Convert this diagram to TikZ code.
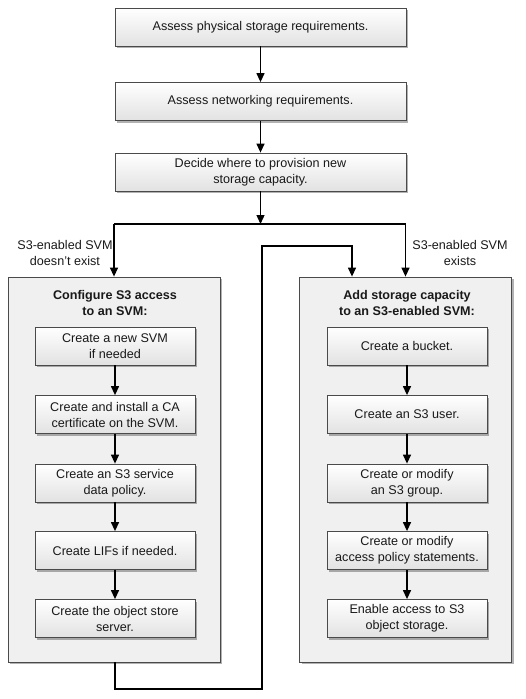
\documentclass[tikz,border=0pt]{standalone}
\usepackage{fontspec}
\setmainfont{Liberation Sans}
\usepackage{tikz}
\usetikzlibrary{arrows.meta}
\usetikzlibrary{shadows}

\definecolor{boxline}{HTML}{4A4A4A}
\definecolor{panelfill}{HTML}{F0F0F0}
\definecolor{stepfill}{HTML}{E2E2E2}

\tikzset{
  stepbox/.style={draw=boxline, line width=0.8pt, top color=white, bottom color=stepfill,
    drop shadow={shadow xshift=2pt, shadow yshift=-2pt, fill=black, opacity=0.3},
    minimum height=38pt, align=center, inner sep=2pt, text=black!90,
    font=\fontsize{12.6}{16}\selectfont},
  panel/.style={draw=boxline, line width=0.8pt, fill=panelfill,
    drop shadow={shadow xshift=2pt, shadow yshift=-2pt, fill=black, opacity=0.3},
    minimum width=212pt, minimum height=385pt},
  note/.style={align=center, text=black!90, font=\fontsize{12.6}{16}\selectfont},
  link/.style={line width=1.3pt, -{Triangle[length=9pt,width=8pt]}},
}

\begin{document}
\begin{tikzpicture}[x=1pt, y=-1pt]
\useasboundingbox (0,0) rectangle (525,699);

% First, the three steps on top
\node[stepbox, minimum width=291pt] (phys) at (260.5,27) {Assess physical storage requirements.};
\node[stepbox, minimum width=291pt] (net) at (260.5,101.5) {Assess networking requirements.};
\node[stepbox, minimum width=291pt] (decide) at (260.5,172) {Decide where to provision new\\storage capacity.};

% The two panels
\node[panel] (cfg) at (114,469.5) {};
\node[panel] (add) at (405.5,469.5) {};
\node[note, font=\fontsize{12.6}{16}\selectfont\bfseries] (cfgtitle) at (115,303) {Configure S3 access\\to an SVM:};
\node[note, font=\fontsize{12.6}{16}\selectfont\bfseries] (addtitle) at (407,303) {Add storage capacity\\to an S3-enabled SVM:};

% Steps inside the left panel
\node[stepbox, minimum width=160pt] (svm) at (115,346) {Create a new SVM\\if needed};
\node[stepbox, minimum width=160pt] (cert) at (115,414.5) {Create and install a CA\\certificate on the SVM.};
\node[stepbox, minimum width=160pt] (policy) at (115,483) {Create an S3 service\\data policy.};
\node[stepbox, minimum width=160pt] (lifs) at (115,550.5) {Create LIFs if needed.};
\node[stepbox, minimum width=160pt] (server) at (115,618.5) {Create the object store\\server.};

% Steps inside the right panel
\node[stepbox, minimum width=160pt] (bucket) at (407,346) {Create a bucket.};
\node[stepbox, minimum width=160pt] (user) at (407,414.5) {Create an S3 user.};
\node[stepbox, minimum width=160pt] (group) at (407,483) {Create or modify\\an S3 group.};
\node[stepbox, minimum width=160pt] (stmt) at (407,550.5) {Create or modify\\access policy statements.};
\node[stepbox, minimum width=160pt] (enable) at (407,618.5) {Enable access to S3\\object storage.};

% Branch labels
\node[note] (nolabel) at (65,253) {S3-enabled SVM\\doesn't exist};
\node[note] (yeslabel) at (460,253) {S3-enabled SVM\\exists};

% Now, the connectors
\coordinate (split) at (260.5,224);
\coordinate (splitl) at (114,224);
\coordinate (splitr) at (405.5,224);
\draw[link] (phys) -- (net);
\draw[link] (net) -- (decide);
\draw[link] (decide) -- (split);
\draw[line width=1.3pt] (splitl) -- (splitr);
\draw[link] (splitl) -- (splitl |- cfg.north);
\draw[link] (splitr) -- (splitr |- add.north);

\draw[link] (svm) -- (cert);
\draw[link] (cert) -- (policy);
\draw[link] (policy) -- (lifs);
\draw[link] (lifs) -- (server);

\draw[link] (bucket) -- (user);
\draw[link] (user) -- (group);
\draw[link] (group) -- (stmt);
\draw[link] (stmt) -- (enable);

% Finally the loop from the left panel to the right one
\coordinate (loopa) at (115,689);
\coordinate (loopb) at (262,689);
\coordinate (loopc) at (262,246);
\coordinate (loopd) at (352,246);
\draw[link] (loopa |- cfg.south) -- (loopa) -- (loopb) -- (loopc) -- (loopd) -- (loopd |- add.north);
\end{tikzpicture}
\end{document}
